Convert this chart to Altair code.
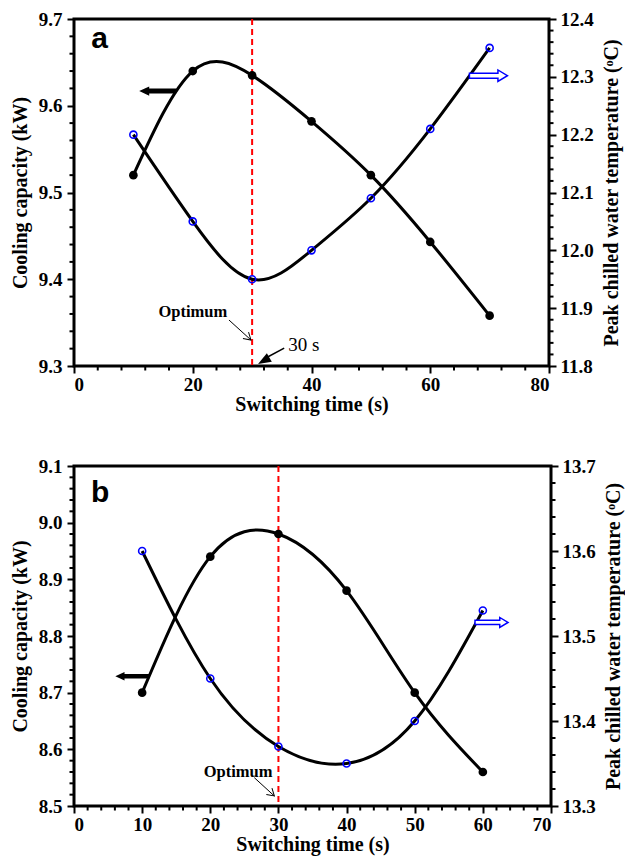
import altair as alt
import pandas as pd

SERIF = "Liberation Serif"
SANS = "Liberation Sans"
BLUE = "#0000ff"

# ---------------- data: panel a ----------------
a_time = [10, 20, 30, 40, 50, 60, 70]
a_cool = [9.52, 9.64, 9.635, 9.582, 9.52, 9.443, 9.358]
a_temp = [12.20, 12.05, 11.95, 12.00, 12.09, 12.21, 12.35]

# ---------------- data: panel b ----------------
b_time = [10, 20, 30, 40, 50, 60]
b_cool = [8.70, 8.94, 8.98, 8.88, 8.70, 8.56]
b_temp = [13.60, 13.45, 13.37, 13.35, 13.40, 13.53]

# ---------------- axis ticks ----------------
a_x_major = [0, 20, 40, 60, 80]
a_x_minor = [v for v in range(0, 81, 4) if v % 20]
a_c_major = [9.3, 9.4, 9.5, 9.6, 9.7]
a_c_minor = [round(9.3 + 0.02 * i, 2) for i in range(21) if i % 5]
a_t_major = [11.8, 11.9, 12.0, 12.1, 12.2, 12.3, 12.4]
a_t_minor = [round(11.8 + 0.02 * i, 2) for i in range(31) if i % 5]

b_x_major = [0, 10, 20, 30, 40, 50, 60, 70]
b_x_minor = [v for v in range(0, 71, 2) if v % 10]
b_c_major = [8.5, 8.6, 8.7, 8.8, 8.9, 9.0, 9.1]
b_c_minor = [round(8.5 + 0.02 * i, 2) for i in range(31) if i % 5]
b_t_major = [13.3, 13.4, 13.5, 13.6, 13.7]
b_t_minor = [round(13.3 + 0.02 * i, 2) for i in range(21) if i % 5]

OPTIMUM_T = [30]

# ---------------- annotations (data units) ----------------
a_ann = dict(
    letter="a", letter_x=2.9, letter_y=9.667,
    left_arrow_x=14.1, left_arrow_y=9.617, left_arrow_w=37,
    right_arrow_x=69.8, right_arrow_y=12.302, right_arrow_w=38,
    opt_x=20.0, opt_y=9.362,
    opt_line=[26.1, 9.353, 29.8, 9.330], opt_angle=42,
    s_text="30 s", s_x=36.1, s_y=9.317,
    s_line=[35.4, 9.3207, 31.9, 9.3078], s_tip=[31.0, 9.3023],
)
b_ann = dict(
    letter="b", letter_x=2.5, letter_y=9.0365,
    left_arrow_x=8.56, left_arrow_y=8.729, left_arrow_w=34,
    right_arrow_x=61.27, right_arrow_y=13.516, right_arrow_w=33,
    opt_x=24.07, opt_y=8.560,
    opt_line=[26.46, 8.550, 29.4, 8.5177], opt_angle=42,
)

LEFT_ARROW = "M-1,0 L-0.46,-0.25 L-0.46,-0.13 L1,-0.13 L1,0.13 L-0.46,0.13 L-0.46,0.25 Z"
RIGHT_ARROW = "M-1,-0.13 L0.5,-0.13 L0.5,-0.3 L1,0 L0.5,0.3 L0.5,0.13 L-1,0.13 Z"
OPEN_HEAD = "M-1,-0.6 L0,0 L-1,0.6"
FILLED_HEAD = "M0,0 L-1,-0.38 L-1,0.38 Z"


def panel(time, cool, temp, xdom, xmaj, xmin, cdom, cmaj, cmin,
          tdom, tmaj, tmin, W, H, ann):
    df = pd.DataFrame({"t": time, "cool": cool, "temp": temp})
    xs = alt.Scale(domain=xdom, nice=False, zero=False)
    cs = alt.Scale(domain=cdom, nice=False, zero=False)
    ts = alt.Scale(domain=tdom, nice=False, zero=False)
    x_axis = alt.Axis(values=xmaj, format="d", title="Switching time (s)",
                      orient="bottom", titlePadding=0, labelPadding=2)
    c_axis = alt.Axis(orient="left", values=cmaj, format=".1f",
                      title="Cooling capacity (kW)", titlePadding=8, labelPadding=5)
    t_axis = alt.Axis(orient="right", values=tmaj, format=".1f",
                      title="Peak chilled water temperature (ᵒC)",
                      titleAngle=270, titleBaseline="top", titlePadding=8,
                      labelPadding=4)
    base = alt.Chart(df)

    xn = lambda f="t": alt.X(f"{f}:Q", scale=xs, axis=x_axis)
    cn = lambda f="cool": alt.Y(f"{f}:Q", scale=cs, axis=c_axis)
    tn = lambda f="temp": alt.Y(f"{f}:Q", scale=ts, axis=t_axis)

    vline = alt.Chart(pd.DataFrame({"t": OPTIMUM_T})).mark_rule(
        color="#ff0000", strokeDash=[6, 4], strokeWidth=2).encode(x=xn())

    cool_line = base.mark_line(interpolate="natural", color="black",
                               strokeWidth=3).encode(x=xn(), y=cn())
    cool_pts = base.mark_circle(size=75, color="black", opacity=1).encode(
        x=xn(), y=cn())

    x_minor = alt.Chart(pd.DataFrame({"v": xmin})).mark_rule(
        color="black", strokeWidth=2).encode(
        x=xn("v"), y=alt.value(H), y2=alt.value(H + 4.5))
    c_minor = alt.Chart(pd.DataFrame({"v": cmin})).mark_rule(
        color="black", strokeWidth=2).encode(
        y=cn("v"), x=alt.value(0), x2=alt.value(-4.5))

    la = alt.Chart(pd.DataFrame({"x": [ann["left_arrow_x"]], "y": [ann["left_arrow_y"]]})).mark_point(
        shape=LEFT_ARROW, filled=True, color="black", opacity=1,
        size=ann["left_arrow_w"] ** 2).encode(x=xn("x"), y=cn("y"))

    letter = alt.Chart(pd.DataFrame({"x": [ann["letter_x"]], "y": [ann["letter_y"]],
                                     "s": [ann["letter"]]})).mark_text(
        font=SANS, fontWeight="bold", fontSize=30, align="left",
        baseline="alphabetic", color="black").encode(x=xn("x"), y=cn("y"), text="s:N")

    opt_text = alt.Chart(pd.DataFrame({"x": [ann["opt_x"]], "y": [ann["opt_y"]],
                                       "s": ["Optimum"]})).mark_text(
        font=SERIF, fontWeight="bold", fontSize=16.5, align="center",
        baseline="middle", color="black").encode(x=xn("x"), y=cn("y"), text="s:N")
    ol = ann["opt_line"]
    opt_line = alt.Chart(pd.DataFrame({"x": [ol[0]], "y": [ol[1]], "x2": [ol[2]], "y2": [ol[3]]})).mark_rule(
        color="black", strokeWidth=1).encode(
        x=xn("x"), y=cn("y"), x2="x2:Q", y2="y2:Q")
    opt_head = alt.Chart(pd.DataFrame({"x": [ol[2]], "y": [ol[3]]})).mark_point(
        shape=OPEN_HEAD, filled=False, color="black", strokeWidth=1, opacity=1,
        size=196, angle=ann["opt_angle"]).encode(x=xn("x"), y=cn("y"))

    cool_layers = [vline, cool_line, cool_pts, x_minor, c_minor, la, letter,
                   opt_text, opt_line, opt_head]

    if "s_text" in ann:
        s_text = alt.Chart(pd.DataFrame({"x": [ann["s_x"]], "y": [ann["s_y"]],
                                         "s": [ann["s_text"]]})).mark_text(
            font=SERIF, fontSize=19, align="left", baseline="alphabetic",
            color="black").encode(x=xn("x"), y=cn("y"), text="s:N")
        sl = ann["s_line"]
        s_line = alt.Chart(pd.DataFrame({"x": [sl[0]], "y": [sl[1]], "x2": [sl[2]], "y2": [sl[3]]})).mark_rule(
            color="black", strokeWidth=1.5).encode(
            x=xn("x"), y=cn("y"), x2="x2:Q", y2="y2:Q")
        s_head = alt.Chart(pd.DataFrame({"x": [ann["s_tip"][0]], "y": [ann["s_tip"][1]]})).mark_point(
            shape=FILLED_HEAD, filled=True, color="black", opacity=1,
            size=26 ** 2, angle=150).encode(x=xn("x"), y=cn("y"))
        cool_layers += [s_text, s_line, s_head]

    cool_layer = alt.layer(*cool_layers)

    temp_line = base.mark_line(interpolate="natural", color="black",
                               strokeWidth=3).encode(x=xn(), y=tn())
    temp_pts = base.mark_point(size=50, shape="circle", filled=False, color=BLUE,
                               strokeWidth=1.6, opacity=1).encode(x=xn(), y=tn())
    t_minor = alt.Chart(pd.DataFrame({"v": tmin})).mark_rule(
        color="black", strokeWidth=2).encode(
        y=tn("v"), x=alt.value(W), x2=alt.value(W + 4.5))
    ra = alt.Chart(pd.DataFrame({"x": [ann["right_arrow_x"]], "y": [ann["right_arrow_y"]]})).mark_point(
        shape=RIGHT_ARROW, filled=True, fill="white", stroke=BLUE, strokeWidth=1.5,
        opacity=1, size=ann["right_arrow_w"] ** 2).encode(x=xn("x"), y=tn("y"))

    temp_layer = alt.layer(temp_line, temp_pts, t_minor, ra)

    return alt.layer(cool_layer, temp_layer).resolve_scale(
        y="independent").properties(width=W, height=H)


pa = panel(a_time, a_cool, a_temp, [0, 80], a_x_major, a_x_minor,
           [9.3, 9.7], a_c_major, a_c_minor, [11.8, 12.4], a_t_major, a_t_minor,
           475, 347, a_ann)
pb = panel(b_time, b_cool, b_temp, [0, 70], b_x_major, b_x_minor,
           [8.5, 9.1], b_c_major, b_c_minor, [13.3, 13.7], b_t_major, b_t_minor,
           477, 340, b_ann)

chart = alt.vconcat(pa, pb, spacing=39, padding=0).configure_axis(
    labelFont=SERIF, labelFontSize=19, labelFontWeight="bold", labelColor="black",
    titleFont=SERIF, titleFontSize=20, titleFontWeight="bold", titleColor="black",
    tickColor="black", tickWidth=2, tickSize=7, domain=False, grid=False,
    labelPadding=3,
).configure_view(stroke="black", strokeWidth=3).properties(background="white")

chart.save("out.html", embed_options={"renderer": "svg", "actions": False})
